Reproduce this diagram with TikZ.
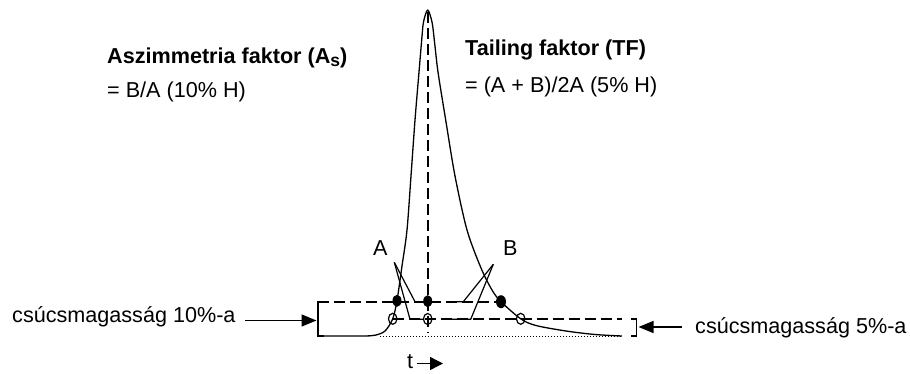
\documentclass[tikz,border=0pt]{standalone}
\usepackage{fontspec}
\setmainfont{Liberation Sans}
\usetikzlibrary{arrows.meta,shapes.geometric}
\begin{document}
\begin{tikzpicture}[x=1pt,y=-1pt,
  txt/.style={anchor=base west,inner sep=0pt,font=\fontsize{21.6}{25}\selectfont},
  btxt/.style={anchor=base west,inner sep=0pt,font=\fontsize{21.6}{25}\selectfont\bfseries},
  peak/.style={line width=1.3pt,line join=round},
  dsh/.style={line width=1.9pt,dash pattern=on 11pt off 5pt},
  dotl/.style={line width=0.8pt,dash pattern=on 1pt off 2pt},
  fdot/.style={ellipse,fill=black,inner sep=0pt,minimum width=9pt,minimum height=12pt},
  hdot/.style={ellipse,draw=black,line width=1.2pt,inner sep=0pt,minimum width=8.5pt,minimum height=11pt},
  arr/.style={line width=1.4pt,-{Triangle[length=15pt,width=12pt]}},
  thinl/.style={line width=1.2pt},
  brk/.style={line width=1.5pt}
]
\useasboundingbox (0,0) rectangle (910,373);

% key coordinates
\coordinate (apex) at (427.7,12);
\coordinate (cbot) at (427.7,333);
\coordinate (lbT) at (318,301.7);
\coordinate (lbB) at (318,336);
\coordinate (rbT) at (636.5,319);
\coordinate (rbB) at (636.5,336);
\coordinate (h10e) at (501,301.7);
\coordinate (h5s) at (392.7,318.8);
\coordinate (h5e) at (622,318.8);
\coordinate (dots) at (380,336);
\coordinate (dote) at (622,336);

% texts
\node[btxt] (t1) at (107,63) {Aszimmetria faktor (A\raisebox{-3pt}{\fontsize{17.5}{17.5}\selectfont s})};
\node[txt] (t2) at (107,97) {= B/A (10\% H)};
\node[btxt] (t3) at (465,55) {Tailing faktor (TF)};
\node[txt] (t4) at (465,92) {= (A + B)/2A (5\% H)};
\node[txt] (la) at (373,255) {A};
\node[txt] (lb) at (503,255) {B};
\node[txt] (l10) at (12,322) {csúcsmagasság 10\%-a};
\node[txt] (l5) at (695,333) {csúcsmagasság 5\%-a};
\node[txt] (lt) at (407,368.5) {t};

% dashed guide lines
\draw[dsh] (lbT) -- (h10e);
\draw[dsh] (h5s) -- (h5e);
\draw[dsh] (apex) -- (cbot);
\draw[dotl] (dots) -- (dote);

% peak curve
\draw[peak] plot[smooth,tension=0.5] coordinates {
 (318,336) (362,336) (375,335.2) (385,331) (392.7,318.8) (397,300.5)
 (402,266) (407,230) (411,176) (415,120) (419,72) (421.7,40) (423.5,22)
 (427.7,10) (432,22) (434.3,40) (438,72) (445.7,120) (455,176) (467,230)
 (481,268) (492,290) (501,301.7) (520.7,318.8) (536,325.5) (566,331)
 (595,334.5) (622,336)};

% brackets
\draw[brk] (324,301.7) -- (lbT) -- (lbB) -- (324,336);
\draw[brk] (631,319) -- (rbT) -- (rbB) -- (631,336);

% A / B indicator lines
\coordinate (va) at (394.3,262.3);
\coordinate (vb) at (493.3,264.3);
\draw[thinl] (va) -- (415,301.7) -- (424,301.7);
\draw[thinl] (va) -- (410,319.3) -- (424,319.3);
\draw[thinl] (vb) -- (463.3,301.7) -- (455,301.7);
\draw[thinl] (vb) -- (470.7,319.3) -- (452,319.3);

% dots
\node[fdot] (f1) at (397,300.8) {};
\node[fdot] (f2) at (427.7,301.2) {};
\node[fdot,minimum width=10pt,minimum height=13pt] (f3) at (501,301.7) {};
\node[hdot] (o1) at (392.7,318.8) {};
\node[hdot] (o2) at (427.7,319) {};
\node[hdot] (o3) at (520.7,318.8) {};

% arrows
\coordinate (a10) at (245,320.5);
\coordinate (a10t) at (316.5,320.5);
\coordinate (a5) at (682,327);
\coordinate (a5t) at (638.5,327);
\coordinate (ta) at (417,363.5);
\coordinate (tb) at (443,363.5);
\draw[arr] (a10) -- (a10t);
\draw[arr] (a5) -- (a5t);
\draw[line width=1.4pt,-{Triangle[length=13pt,width=13pt]}] (ta) -- (tb);
\end{tikzpicture}
\end{document}
